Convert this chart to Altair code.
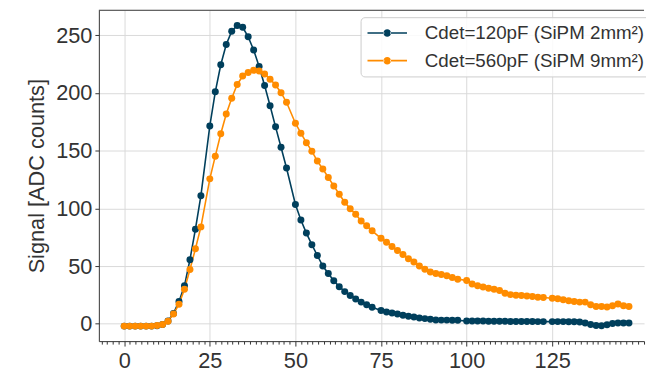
import altair as alt
import pandas as pd

# sample times (ns)
t = [0.0, 1.6, 3.2, 4.8, 6.4, 8.0, 9.6, 11.2, 12.8, 14.4, 16.0, 17.6, 19.2, 20.8, 22.4,
     25.0, 26.6, 28.2, 29.8, 31.4, 33.0, 34.6, 36.2, 37.8, 39.4, 41.0, 42.6, 44.2, 45.8, 47.4,
     50.0, 51.6, 53.2, 54.8, 56.4, 58.0, 59.6, 61.2, 62.8, 64.4, 66.0, 67.6, 69.2, 70.8, 72.4,
     75.0, 76.6, 78.2, 79.8, 81.4, 83.0, 84.6, 86.2, 87.8, 89.4, 91.0, 92.6, 94.2, 95.8, 97.4,
     100.0, 101.6, 103.2, 104.8, 106.4, 108.0, 109.6, 111.2, 112.8, 114.4, 116.0, 117.6, 119.2, 120.8, 122.4,
     125.0, 126.6, 128.2, 129.8, 131.4, 133.0, 134.6, 136.2, 137.8, 139.4, 141.0, 142.6, 144.2, 145.8, 147.4]

sig_120pF = [-2, -2, -2, -2, -2, -2, -1.6, -0.6, 2.5, 9, 19.4, 33, 55.6, 82, 111,
             171.5, 201, 224.5, 242, 253.5, 258.5, 257, 248.7, 237.3, 223, 206.5, 189, 170.7, 153, 135,
             103.4, 90, 78.6, 68.6, 59.2, 50.1, 43.6, 37.3, 32.2, 27.9, 24.5, 21.6, 18.8, 16.5, 14.3,
             11.5, 10.3, 9.4, 8.5, 7.4, 6.6, 6.0, 5.1, 4.5, 3.9, 3.4, 3.2, 3.2, 3.0, 3.0,
             2.5, 2.5, 2.4, 2.4, 2.3, 2.3, 2.2, 2.2, 2.1, 2.1, 2.0, 2.0, 2.0, 1.9, 1.9,
             1.9, 1.9, 1.9, 1.8, 1.8, 1.5, 0.8, -0.5, -1.5, -1.7, -0.8, 0.3, 0.7, 0.7, 0.7]

sig_560pF = [-2, -2, -2, -2, -2, -2, -1.4, -0.5, 2.3, 8.5, 17, 30, 47, 65, 84,
             125.6, 145.3, 164.7, 181.8, 195.5, 207.4, 214.7, 217.7, 219.7, 219, 216.5, 212, 207, 200.3, 192,
             173.8, 165.2, 157, 149.6, 141, 134.2, 126.8, 119.5, 112.3, 105.4, 99.7, 94.9, 89.1, 84.9, 80.6,
             74.1, 70.7, 66.9, 63.5, 60.1, 56.4, 53.6, 50.2, 47.3, 45, 43.6, 42.7, 41.6, 40.2, 38.7,
             37.5, 34.5, 33, 31.9, 30.8, 29.9, 28.8, 26.5, 25.3, 24.8, 24.5, 24.2, 23.6, 23.1, 22.8,
             22.2, 21.7, 20.8, 19.9, 19.4, 18.8, 18.8, 16.5, 15.1, 15.1, 14.5, 15.6, 17.1, 15.6, 15.1]

series_labels = ["Cdet=120pF (SiPM 2mm²)", "Cdet=560pF (SiPM 9mm²)"]
series_colors = ["#003f5c", "#ff8c00"]
y_ticks = [0, 50, 100, 150, 200, 250]
x_tick_values = [round(k * 25 / 15, 6) for k in range(-4, 92)]

rows = []
for lab, ys in zip(series_labels, [sig_120pF, sig_560pF]):
    for xi, yi in zip(t, ys):
        rows.append({"t": xi, "v": yi, "series": lab})
df = pd.DataFrame(rows)

FONT = "Liberation Sans"
W, H = 552, 335

major_test = "datum.value % 25 === 0 && datum.value <= 125"

x_axis = alt.Axis(
    values=x_tick_values,
    labelExpr=f"({major_test}) ? datum.label : ''",
    title=None,
    labelFont=FONT, labelFontSize=22, labelColor="#333333",
    labelOverlap=False, labelFlush=False, labelBound=False,
    labelPadding=5,
    tickColor="#333333",
    tickSize={"condition": {"test": major_test, "value": 5}, "value": 3},
    grid=True, gridColor="#d9d9d9", gridWidth=1,
    gridOpacity={"condition": {"test": major_test, "value": 1}, "value": 0},
    domainColor="#333333",
)
y_axis = alt.Axis(
    values=y_ticks,
    title="Signal [ADC counts]",
    titleFont=FONT, titleFontSize=22, titleFontWeight="normal", titleColor="#333333",
    titlePadding=7,
    labelFont=FONT, labelFontSize=22, labelColor="#333333", labelPadding=3,
    tickColor="#333333", tickSize=4,
    grid=True, gridColor="#d9d9d9", gridWidth=1,
    domainColor="#333333",
)

xs = alt.Scale(domain=[-7.4, 151.8], nice=False, zero=False)
ys_ = alt.Scale(domain=[-15, 271.7], nice=False, zero=False)
cs = alt.Scale(domain=series_labels, range=series_colors)

sym = ("M-2,-0.08H-0.3V0.08H-2Z"
       "M0.3,-0.08H2V0.08H0.3Z"
       "M-0.38,0A0.38,0.38 0 1,0 0.38,0A0.38,0.38 0 1,0 -0.38,0Z")

legend = alt.Legend(
    title=None, orient="none", legendX=265, legendY=7,
    symbolType=sym, symbolSize=400, symbolOffset=11, symbolStrokeWidth=0, symbolOpacity=1,
    labelOffset=28, labelFont=FONT, labelFontSize=19, labelColor="#333333", labelLimit=400,
    padding=6, rowPadding=8,
    fillColor="rgba(255,255,255,0.85)", strokeColor="#cccccc", cornerRadius=4,
)

base = alt.Chart(df).encode(
    x=alt.X("t:Q", scale=xs, axis=x_axis),
    y=alt.Y("v:Q", scale=ys_, axis=y_axis),
    color=alt.Color("series:N", scale=cs, legend=legend),
)

lines = base.mark_line(strokeWidth=1.6)
pts = base.mark_circle(size=50, opacity=1)

border = alt.Chart(pd.DataFrame({"a": [0]})).mark_rule(color="#333333", strokeWidth=1).encode(
    x=alt.value(0), x2=alt.value(W), y=alt.value(0)
)

chart = alt.layer(lines, pts, border).properties(
    width=W, height=H,
    autosize=alt.AutoSizeParams(type="none"),
    padding={"left": 92, "top": 0, "right": 2, "bottom": 32},
).configure_view(stroke=None)

chart.save("out.html", embed_options={"renderer": "svg", "actions": False})
